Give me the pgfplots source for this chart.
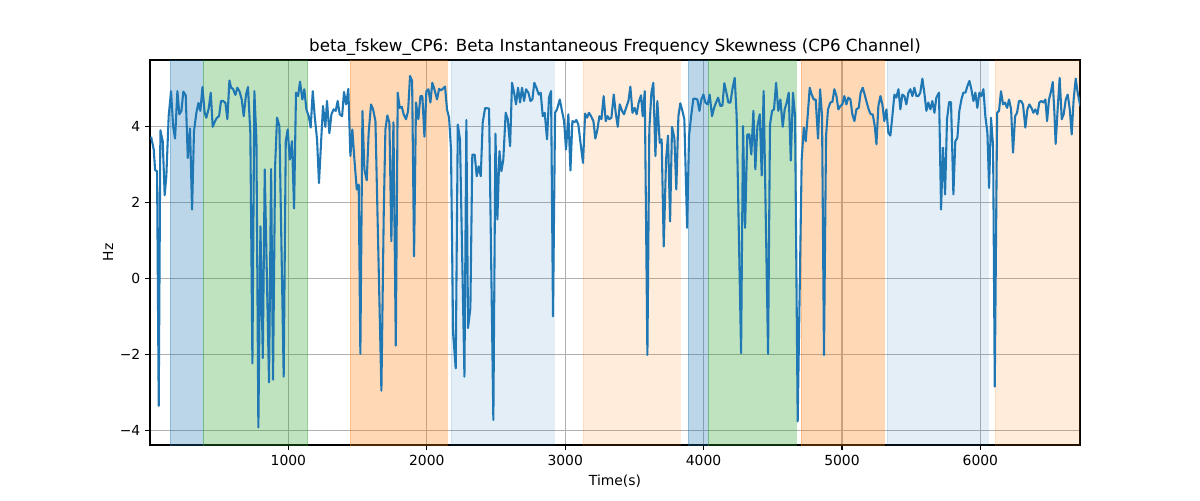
\documentclass[border=0pt]{standalone}
\usepackage{fontspec}
\setmainfont{DejaVu Sans}
\usepackage{pgfplots}
\pgfplotsset{compat=1.18}
\definecolor{tabblue}{HTML}{1F77B4}
\definecolor{taborange}{HTML}{FF7F0E}
\definecolor{tabgreen}{HTML}{2CA02C}
\begin{document}
\begin{tikzpicture}
\useasboundingbox (0,0) rectangle (864pt,360pt);
\begin{axis}[
 at={(108pt,39.6pt)}, anchor=south west,
 scale only axis, width=669.6pt, height=277.2pt,
 xmin=0, xmax=6720, ymin=-4.38, ymax=5.76,
 xtick={1000,2000,3000,4000,5000,6000},
 xticklabels={1000,2000,3000,4000,5000,6000},
 ytick={-4,-2,0,2,4},
 yticklabels={−4,−2,0,2,4},
 grid=major, major grid style={color=black!31, line width=0.8pt},
 axis line style={line width=0.8pt},
 every tick/.style={line width=0.8pt, black},
 tick align=outside, major tick length=3.5pt,
 tick pos=left,
 ticklabel style={font=\fontsize{10}{12}\selectfont},
 title={beta\_fskew\_CP6: Beta Instantaneous Frequency Skewness (CP6 Channel)},
 title style={font=\fontsize{12}{14}\selectfont, yshift=-6.5pt},
 xlabel={Time(s)}, ylabel={Hz},
 label style={font=\fontsize{10}{12}\selectfont},
 ylabel style={yshift=-2pt},
 scaled x ticks=false,
]
\addplot[draw=tabblue, draw opacity=0.3, fill=tabblue, fill opacity=0.3] coordinates {(147,-10) (386,-10) (386,10) (147,10)} -- cycle;
\addplot[draw=tabgreen, draw opacity=0.3, fill=tabgreen, fill opacity=0.3] coordinates {(386,-10) (1140,-10) (1140,10) (386,10)} -- cycle;
\addplot[draw=taborange, draw opacity=0.3, fill=taborange, fill opacity=0.3] coordinates {(1448,-10) (2149,-10) (2149,10) (1448,10)} -- cycle;
\addplot[draw=tabblue, draw opacity=0.12, fill=tabblue, fill opacity=0.12] coordinates {(2178,-10) (2920,-10) (2920,10) (2178,10)} -- cycle;
\addplot[draw=taborange, draw opacity=0.15, fill=taborange, fill opacity=0.15] coordinates {(3131,-10) (3832,-10) (3832,10) (3131,10)} -- cycle;
\addplot[draw=tabblue, draw opacity=0.3, fill=tabblue, fill opacity=0.3] coordinates {(3888,-10) (4033,-10) (4033,10) (3888,10)} -- cycle;
\addplot[draw=tabgreen, draw opacity=0.3, fill=tabgreen, fill opacity=0.3] coordinates {(4033,-10) (4668,-10) (4668,10) (4033,10)} -- cycle;
\addplot[draw=taborange, draw opacity=0.3, fill=taborange, fill opacity=0.3] coordinates {(4707,-10) (5305,-10) (5305,10) (4707,10)} -- cycle;
\addplot[draw=tabblue, draw opacity=0.12, fill=tabblue, fill opacity=0.12] coordinates {(5326,-10) (6056,-10) (6056,10) (5326,10)} -- cycle;
\addplot[draw=taborange, draw opacity=0.15, fill=taborange, fill opacity=0.15] coordinates {(6108,-10) (6722,-10) (6722,10) (6108,10)} -- cycle;
\addplot[tabblue, line width=1.5pt, line join=round] coordinates {
(8,3.74) (27,3.40) (37,2.86) (51,2.83) (63,-3.35) (75,3.91) (92,3.62) (106,2.20) (118,2.70) (135,4.28)
(152,4.94) (167,4.02) (181,3.69) (198,4.94) (212,4.33) (227,4.42) (241,4.93) (258,4.83) (273,3.18) (289,3.96)
(304,1.82) (318,3.89) (335,4.37) (350,4.63) (364,4.42) (379,5.05) (395,4.37) (407,4.24) (424,4.48) (439,4.90)
(453,4.00) (470,4.15) (484,4.24) (499,4.28) (513,4.68) (528,4.68) (545,4.63) (559,4.20) (574,5.22) (586,5.03)
(600,5.00) (617,4.84) (631,5.03) (646,4.94) (663,4.72) (677,4.28) (694,4.85) (708,5.05) (725,3.84) (740,-2.23)
(754,4.94) (769,3.67) (783,-3.92) (798,1.38) (815,-2.09) (829,2.88) (860,-2.73) (875,2.89) (889,-2.66) (904,2.96)
(918,4.24) (935,4.02) (966,-2.58) (981,3.62) (995,3.93) (1010,3.14) (1026,3.62) (1041,1.85) (1055,4.90) (1070,4.81)
(1084,5.19) (1101,4.72) (1115,4.99) (1130,4.46) (1147,4.28) (1161,3.98) (1176,4.94) (1190,4.28) (1207,3.67) (1221,2.52)
(1236,3.58) (1250,4.55) (1267,4.00) (1279,4.68) (1296,3.83) (1311,4.33) (1327,4.46) (1342,4.42) (1356,4.68) (1371,4.33)
(1388,4.28) (1402,4.92) (1417,4.59) (1433,5.00) (1448,3.23) (1462,3.93) (1477,3.14) (1494,2.35) (1508,2.48) (1520,-1.98)
(1535,4.42) (1549,2.88) (1566,2.59) (1580,3.84) (1597,4.59) (1612,4.46) (1629,4.15) (1672,-2.95) (1689,1.73) (1701,3.93)
(1715,4.30) (1730,4.11) (1744,0.99) (1759,4.12) (1776,-1.76) (1790,4.90) (1804,4.50) (1819,4.53) (1833,4.33) (1850,4.20)
(1865,4.42) (1879,5.34) (1894,5.21) (1908,0.59) (1922,4.64) (1939,4.20) (1954,4.81) (1968,4.81) (1983,3.74) (1997,4.94)
(2012,4.99) (2026,4.64) (2040,5.16) (2055,4.99) (2074,4.72) (2089,5.00) (2103,4.96) (2118,5.01) (2132,5.06) (2146,4.46)
(2161,4.24) (2175,3.40) (2190,-1.43) (2209,-2.36) (2224,4.06) (2240,3.67) (2272,-2.58) (2286,4.18) (2298,-1.30) (2315,-0.77)
(2329,3.27) (2346,3.27) (2361,2.70) (2375,2.96) (2390,2.70) (2404,4.11) (2421,4.49) (2435,4.49) (2450,4.48) (2481,-3.72)
(2496,3.82) (2510,1.56) (2525,3.36) (2539,2.83) (2553,3.14) (2570,4.37) (2585,4.20) (2602,3.49) (2616,5.16) (2631,4.90)
(2645,4.59) (2659,5.03) (2674,4.64) (2688,5.03) (2703,4.68) (2717,4.99) (2734,4.90) (2749,4.68) (2763,4.72) (2777,5.16)
(2792,5.03) (2809,4.85) (2823,4.90) (2838,4.28) (2852,4.37) (2869,3.67) (2883,4.77) (2898,4.94) (2912,-0.99) (2927,4.37)
(2941,4.46) (2961,4.72) (2977,4.42) (2992,4.15) (3006,3.40) (3023,4.33) (3038,2.85) (3052,4.15) (3066,4.12) (3081,4.18)
(3095,4.06) (3112,3.54) (3129,3.05) (3144,4.35) (3158,4.24) (3172,4.37) (3187,4.28) (3204,4.15) (3218,3.69) (3233,3.93)
(3247,4.28) (3262,4.20) (3278,4.81) (3293,4.15) (3307,4.28) (3319,4.20) (3334,4.24) (3351,4.85) (3365,4.37) (3380,4.00)
(3394,4.59) (3411,4.42) (3425,4.33) (3440,4.50) (3457,4.68) (3471,5.06) (3486,4.37) (3502,4.50) (3517,4.33) (3531,4.64)
(3548,4.83) (3560,4.28) (3575,4.94) (3594,-2.01) (3608,3.93) (3623,4.90) (3637,5.16) (3652,3.23) (3666,4.68) (3683,3.58)
(3697,3.67) (3712,0.85) (3729,3.14) (3743,3.77) (3758,1.51) (3772,4.00) (3789,3.71) (3803,2.35) (3818,4.28) (3832,4.62)
(3847,4.42) (3861,4.20) (3881,1.34) (3895,3.76) (3909,4.24) (3926,4.74) (3941,4.74) (3955,4.72) (3970,4.42) (3984,4.72)
(3999,4.85) (4013,4.64) (4030,4.59) (4044,4.85) (4061,4.28) (4076,4.50) (4090,4.64) (4105,4.77) (4121,4.55) (4136,4.56)
(4150,5.15) (4165,4.90) (4179,4.64) (4194,4.64) (4210,5.03) (4225,5.29) (4239,4.28) (4271,-1.96) (4285,4.02) (4300,1.34)
(4316,3.80) (4331,3.80) (4345,3.27) (4360,4.42) (4374,2.88) (4389,4.02) (4406,4.33) (4420,2.72) (4434,4.94) (4466,-1.98)
(4480,4.06) (4495,4.42) (4509,4.46) (4524,5.16) (4540,4.42) (4555,4.72) (4572,4.00) (4586,4.46) (4601,4.64) (4615,4.90)
(4630,3.11) (4646,4.90) (4661,4.28) (4680,-3.76) (4709,3.14) (4724,3.98) (4738,3.62) (4752,4.28) (4767,5.03) (4781,4.85)
(4796,4.72) (4810,4.72) (4827,3.69) (4842,4.99) (4856,4.28) (4870,-2.01) (4885,3.76) (4899,4.46) (4916,4.64) (4931,4.66)
(4945,4.99) (4960,4.81) (4974,4.46) (4989,4.55) (5003,4.59) (5017,4.81) (5032,4.59) (5046,4.77) (5061,4.72) (5075,4.33)
(5090,4.15) (5104,4.46) (5121,4.50) (5135,4.90) (5150,5.03) (5164,4.85) (5179,4.64) (5193,4.46) (5208,4.33) (5222,4.33)
(5237,4.02) (5249,3.54) (5263,4.55) (5278,4.81) (5292,4.59) (5306,4.15) (5321,4.46) (5335,3.84) (5350,3.77) (5364,4.28)
(5379,4.85) (5393,4.77) (5408,4.99) (5422,4.46) (5436,4.85) (5451,4.81) (5465,4.59) (5480,4.90) (5494,4.99) (5509,4.81)
(5523,5.03) (5538,4.81) (5552,4.81) (5566,4.90) (5581,5.27) (5595,4.90) (5610,4.42) (5624,4.64) (5639,4.46) (5653,4.68)
(5668,4.37) (5682,4.77) (5701,4.90) (5716,1.82) (5730,3.45) (5745,2.22) (5759,4.20) (5774,4.65) (5788,4.65) (5805,2.22)
(5819,3.62) (5834,3.71) (5848,4.42) (5863,4.72) (5877,4.90) (5892,4.90) (5906,5.07) (5921,5.21) (5935,4.99) (5950,4.68)
(5964,4.90) (5978,4.50) (5993,4.90) (6007,4.81) (6022,4.99) (6036,4.28) (6051,3.84) (6063,2.39) (6077,4.24) (6092,3.49)
(6104,-2.84) (6121,4.37) (6135,4.42) (6149,4.94) (6164,4.59) (6178,4.64) (6193,4.50) (6207,4.72) (6222,4.46) (6236,3.32)
(6251,4.28) (6265,4.37) (6279,4.68) (6294,4.68) (6308,4.59) (6325,3.98) (6340,4.46) (6354,4.59) (6369,4.50) (6383,4.37)
(6397,4.46) (6412,4.33) (6426,4.64) (6441,4.68) (6455,4.64) (6470,4.72) (6482,4.15) (6496,4.72) (6511,4.94) (6523,5.18)
(6535,4.37) (6544,3.55) (6559,4.50) (6573,5.29) (6588,4.20) (6602,4.33) (6617,4.72) (6631,4.85) (6646,4.46) (6660,3.80)
(6674,4.72) (6689,5.27) (6703,4.90) (6722,4.55)
};
\end{axis}
\end{tikzpicture}
\end{document}
